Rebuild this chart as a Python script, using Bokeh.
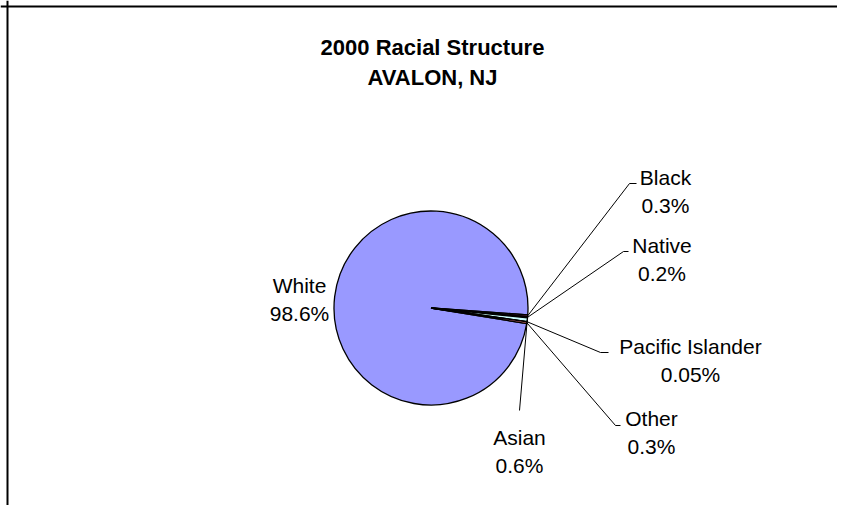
import numpy as np
from bokeh.plotting import figure
from bokeh.models import Range1d, Span
from bokeh.core.properties import value
from bokeh.embed import file_html
from bokeh.resources import INLINE

# ---- data ----
categories = ["White", "Black", "Native", "Asian", "Pacific Islander", "Other"]
percents = [98.6, 0.3, 0.2, 0.6, 0.05, 0.3]
pct_labels = ["98.6%", "0.3%", "0.2%", "0.6%", "0.05%", "0.3%"]
title_lines = ["2000 Racial Structure", "AVALON, NJ"]

# ---- styles / layout ----
colors = ["#9999FF", "#993366", "#FFFFCC", "#CCFFFF", "#660066", "#FF8080"]
W, H = 837, 505


def sx(x):
    return x


def sy(y):
    return H - y


cx, cy, R = 430.5, 307.5, 97.0          # pie centre/radius (screen px)
first_angle = np.deg2rad(-9.3)          # where the first slice starts (clockwise)

# label anchors: centre x, baseline of first line (screen px)
label_pos = [(299, 285), (665, 177), (661.5, 245), (519, 437), (690, 346), (651, 418)]
line_gap = 28
# leader line bend points (screen px); None = no leader
leader_pts = [None,
              [(629, 183), (636, 183)],
              [(623, 251), (628, 251)],
              [(519, 410)],
              [(600, 352), (608, 352)],
              [(615, 425), (620, 425)]]

p = figure(width=W, height=H, output_backend="svg", toolbar_location=None,
           x_axis_type=None, y_axis_type=None, min_border=0,
           x_range=Range1d(0, W), y_range=Range1d(0, H))
p.grid.visible = False
p.outline_line_color = None
p.background_fill_color = "white"
p.border_fill_color = "white"

# pie wedges (clockwise from first_angle)
vals = np.array(percents, dtype=float)
sweeps = vals / vals.sum() * 2 * np.pi
starts_cw = first_angle - np.concatenate([[0], np.cumsum(sweeps)[:-1]])
ends_cw = starts_cw - sweeps
mids = (starts_cw + ends_cw) / 2

p.wedge(x=sx(cx), y=sy(cy), radius=R,
        start_angle=list(ends_cw), end_angle=list(starts_cw), direction="anticlock",
        fill_color=colors, line_color="black", line_width=1.3)

# leader lines
xs, ys = [], []
for i, pts in enumerate(leader_pts):
    if pts is None:
        continue
    x0 = cx + R * np.cos(mids[i])
    y0 = cy - R * np.sin(mids[i])
    xs.append([sx(x0)] + [sx(a) for a, b in pts])
    ys.append([sy(y0)] + [sy(b) for a, b in pts])
p.multi_line(xs=xs, ys=ys, line_color="black", line_width=1)

# labels
lx = [sx(a) for a, b in label_pos]
p.text(x=lx, y=[sy(b) for a, b in label_pos], text=categories,
       text_font=value("Liberation Sans"), text_font_size="21px",
       text_align="center", text_baseline="alphabetic", text_color="black")
p.text(x=lx, y=[sy(b + line_gap) for a, b in label_pos], text=pct_labels,
       text_font=value("Liberation Sans"), text_font_size="21px",
       text_align="center", text_baseline="alphabetic", text_color="black")

# title
p.text(x=[sx(432), sx(432)], y=[sy(46.5), sy(76.5)], text=title_lines,
       text_font=value("Liberation Sans"), text_font_size="22px", text_font_style="bold",
       text_align="center", text_baseline="alphabetic", text_color="black")

# chart border (left and top visible)
p.add_layout(Span(location=sx(7), dimension="height", line_color="black", line_width=2))
p.add_layout(Span(location=sy(6), dimension="width", line_color="black", line_width=2))

open("out.html", "w").write(file_html(p, INLINE))
